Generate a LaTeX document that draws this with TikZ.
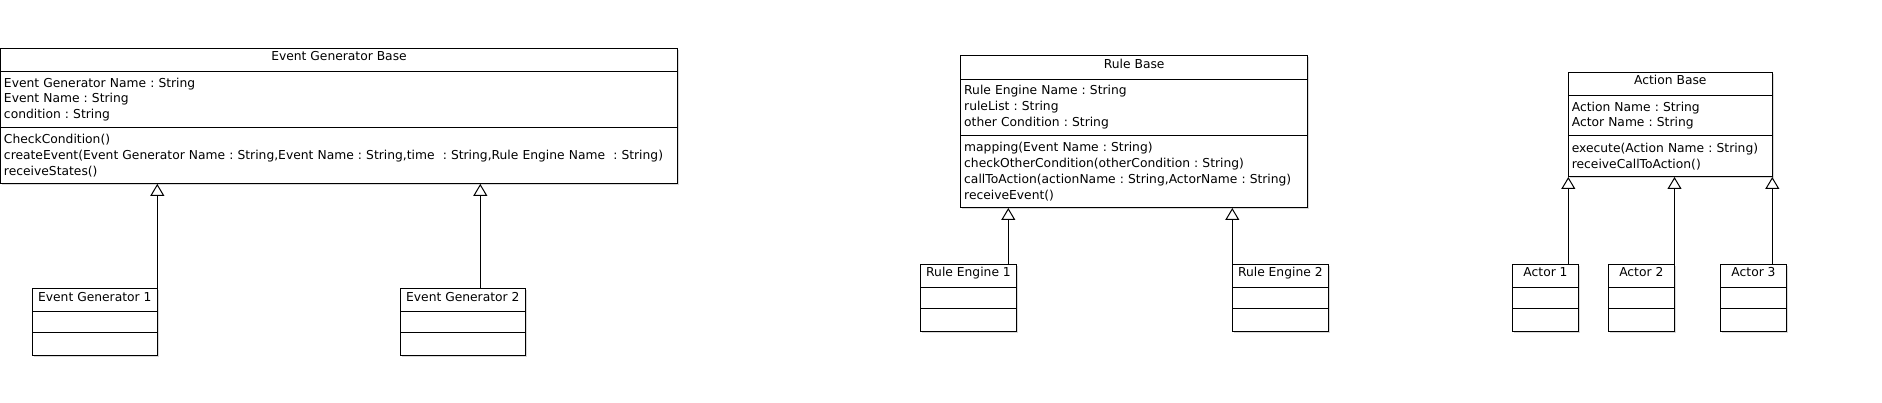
\documentclass[tikz,border=0pt]{standalone}
\usepackage{fontspec}
\usetikzlibrary{positioning,arrows.meta,shadows}
\newfontfamily\umlfont{DejaVu Sans}
\newcommand\umlsize{\fontsize{12.3}{15.7}\selectfont\frenchspacing}

\tikzset{
  uml/.style={draw, fill=white, line width=1pt, outer sep=0pt, inner xsep=3.5pt, inner ysep=0pt,
    font=\umlfont\umlsize,
    drop shadow={shadow xshift=1.5pt, shadow yshift=-1.5pt, fill=black!25, opacity=0.6}},
  umlhead/.style={uml, anchor=north, minimum height=23.3pt, text height=9pt, text depth=7pt},
  umlpart/.style={uml, align=left},
  inherit/.style={-{Triangle[open,length=12pt,width=14pt]}, line width=1pt},
}

\begin{document}
\begin{tikzpicture}[x=1pt,y=-1pt]
\useasboundingbox (0,0) rectangle (1882,403);

% event generators
\node[umlhead, minimum width=677pt] (egbase) at (339,48.3) {Event Generator Base};
\node[umlpart, text width=670pt, minimum height=56pt, below=0pt of egbase] (egbase-attr)
  {Event Generator Name : String\\Event Name : String\\condition : String};
\node[umlpart, text width=670pt, minimum height=56.3pt, below=0pt of egbase-attr] (egbase-ops)
  {CheckCondition()\\createEvent(Event Generator Name : String,Event Name : String,time~ : String,Rule Engine Name~ : String)\\receiveStates()};

\node[umlhead, minimum width=125pt] (eg1) at (94.8,288.7) {Event Generator 1};
\node[umlpart, minimum width=125pt, minimum height=20.6pt, below=0pt of eg1] (eg1-attr) {};
\node[umlpart, minimum width=125pt, minimum height=23pt, below=0pt of eg1-attr] (eg1-ops) {};

\node[umlhead, minimum width=125pt] (eg2) at (462.8,288.7) {Event Generator 2};
\node[umlpart, minimum width=125pt, minimum height=20.6pt, below=0pt of eg2] (eg2-attr) {};
\node[umlpart, minimum width=125pt, minimum height=23pt, below=0pt of eg2-attr] (eg2-ops) {};

% rule engines
\node[umlhead, minimum width=347pt] (rbase) at (1134.2,56) {Rule Base};
\node[umlpart, text width=340pt, minimum height=56pt, below=0pt of rbase] (rbase-attr)
  {Rule Engine Name : String\\ruleList : String\\other Condition : String};
\node[umlpart, text width=340pt, minimum height=72.7pt, below=0pt of rbase-attr] (rbase-ops)
  {mapping(Event Name : String)\\checkOtherCondition(otherCondition : String)\\callToAction(actionName : String,ActorName : String)\\receiveEvent()};

\node[umlhead, minimum width=95.6pt] (re1) at (968.5,264.3) {Rule Engine 1};
\node[umlpart, minimum width=95.6pt, minimum height=21pt, below=0pt of re1] (re1-attr) {};
\node[umlpart, minimum width=95.6pt, minimum height=23pt, below=0pt of re1-attr] (re1-ops) {};

\node[umlhead, minimum width=96pt] (re2) at (1280.3,264.3) {Rule Engine 2};
\node[umlpart, minimum width=96pt, minimum height=21pt, below=0pt of re2] (re2-attr) {};
\node[umlpart, minimum width=96pt, minimum height=23pt, below=0pt of re2-attr] (re2-ops) {};

% actions
\node[umlhead, minimum width=204pt] (abase) at (1670.3,72.3) {Action Base};
\node[umlpart, text width=197pt, minimum height=40pt, below=0pt of abase] (abase-attr)
  {Action Name : String\\Actor Name : String};
\node[umlpart, text width=197pt, minimum height=41.4pt, below=0pt of abase-attr] (abase-ops)
  {execute(Action Name : String)\\receiveCallToAction()};

\foreach \i/\x in {1/1545.5, 2/1641.3, 3/1753.5} {
  \node[umlhead, minimum width=66.4pt] (actor\i) at (\x,264.3) {Actor \i};
  \node[umlpart, minimum width=66.4pt, minimum height=21pt, below=0pt of actor\i] (actor\i-attr) {};
  \node[umlpart, minimum width=66.4pt, minimum height=23pt, below=0pt of actor\i-attr] (actor\i-ops) {};
}

% generalisations
\coordinate (eg2-up) at ([xshift=80pt]eg2.north west);
\coordinate (re1-up) at ([xshift=-8pt]re1.north east);
\draw[inherit] (eg1.north east) -- (eg1.north east |- egbase-ops.south);
\draw[inherit] (eg2-up) -- (eg2-up |- egbase-ops.south);
\draw[inherit] (re1-up) -- (re1-up |- rbase-ops.south);
\draw[inherit] (re2.north west) -- (re2.north west |- rbase-ops.south);
\draw[inherit] (abase-ops.south west |- actor1.north) -- (abase-ops.south west);
\draw[inherit] (actor2.north east) -- (actor2.north east |- abase-ops.south);
\draw[inherit] (abase-ops.south east |- actor3.north) -- (abase-ops.south east);
\end{tikzpicture}
\end{document}
